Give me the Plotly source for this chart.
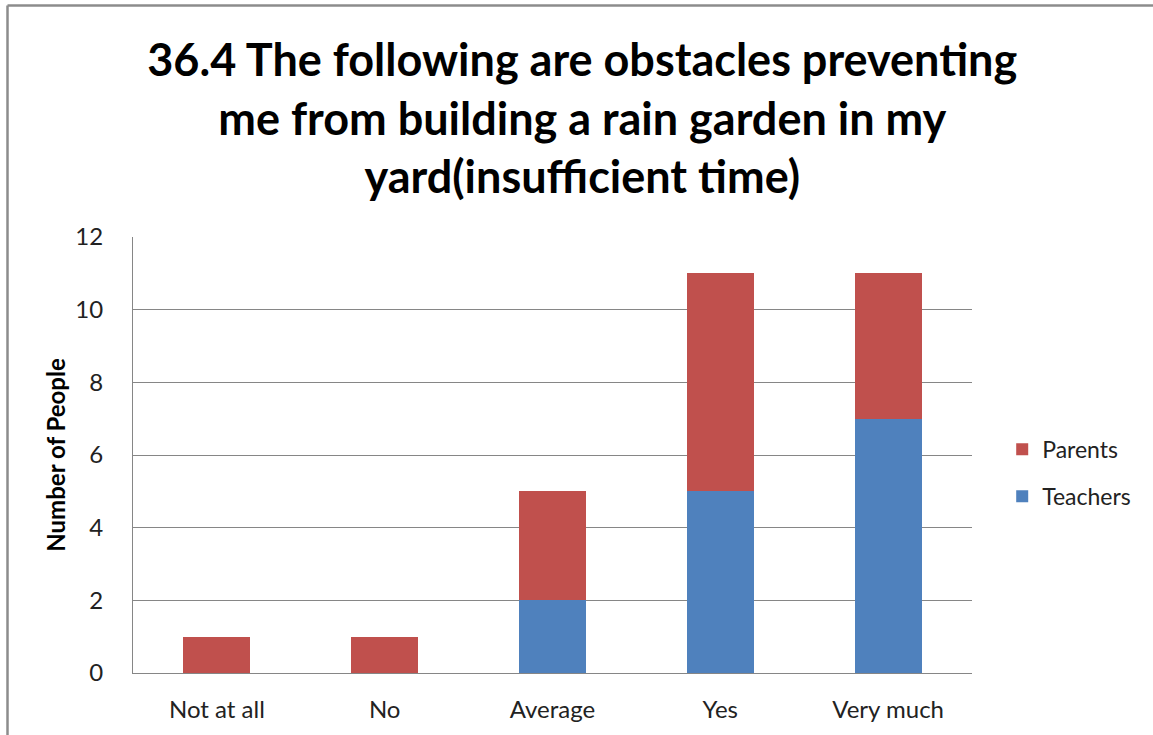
import plotly.graph_objects as go

# Survey responses, stacked by respondent group
categories = ["Not at all", "No", "Average", "Yes", "Very much"]
teachers = [0, 0, 2, 5, 7]
parents = [1, 1, 3, 6, 4]
y_ticks = [0, 2, 4, 6, 8, 10, 12]

title_text = ("36.4 The following are obstacles preventing<br>"
              "me from building a rain garden in my<br>"
              "yard(insufficient time)")

W, H = 1153, 735
ML, MR, MT, MB = 133, 181, 237, 62
grid_color = "#868686"
font_family = "Lato, 'Open Sans', sans-serif"

fig = go.Figure()
fig.add_trace(go.Bar(x=categories, y=teachers, name="Teachers",
                     marker=dict(color="#4F81BD", line=dict(width=0)),
                     legendgroup="t", legendrank=2))
fig.add_trace(go.Bar(x=categories, y=parents, name="Parents",
                     marker=dict(color="#C0504D", line=dict(width=0)),
                     legendgroup="p", legendrank=1))

# Outer chart frame (left and top edges visible)
pw = W - ML - MR
ph = H - MT - MB
fx0 = (7.5 - ML) / pw
fy1 = (H - MB - 5.5) / ph
fig.add_shape(type="line", xref="paper", yref="paper",
              x0=fx0, x1=fx0, y0=-0.5, y1=fy1,
              line=dict(color="#8c8c8c", width=2.5))
fig.add_shape(type="line", xref="paper", yref="paper",
              x0=fx0, x1=1.5, y0=fy1, y1=fy1,
              line=dict(color="#8c8c8c", width=2.5))

fig.update_layout(
    width=W, height=H,
    margin=dict(l=ML, r=MR, t=MT, b=MB),
    paper_bgcolor="white", plot_bgcolor="white",
    barmode="stack", bargap=0.6,
    font=dict(family=font_family, color="#000000"),
    title=dict(text=title_text, x=0.505, xanchor="center",
               y=1 - 76 / H, yanchor="middle",
               font=dict(size=45, family=font_family, color="#000000",
                         weight="bold")),
    xaxis=dict(showgrid=False, showline=True, linecolor=grid_color,
               linewidth=1, ticks="", tickfont=dict(size=24, color="#222"),
               ticklabelstandoff=15),
    yaxis=dict(range=[0, 12], tickvals=y_ticks, showgrid=True,
               gridcolor=grid_color, gridwidth=1, showline=True,
               linecolor=grid_color, linewidth=1, ticks="",
               tickfont=dict(size=24, color="#222"), ticklabelstandoff=24,
               zeroline=False,
               title=dict(text="<b>Number of People</b>",
                          font=dict(size=24, color="#000"), standoff=2)),
    legend=dict(x=1.036, y=0.459, xanchor="left", yanchor="middle",
                traceorder="grouped", tracegroupgap=14,
                font=dict(size=23, color="#222")),
    showlegend=True,
)

fig.write_html("out.html")
